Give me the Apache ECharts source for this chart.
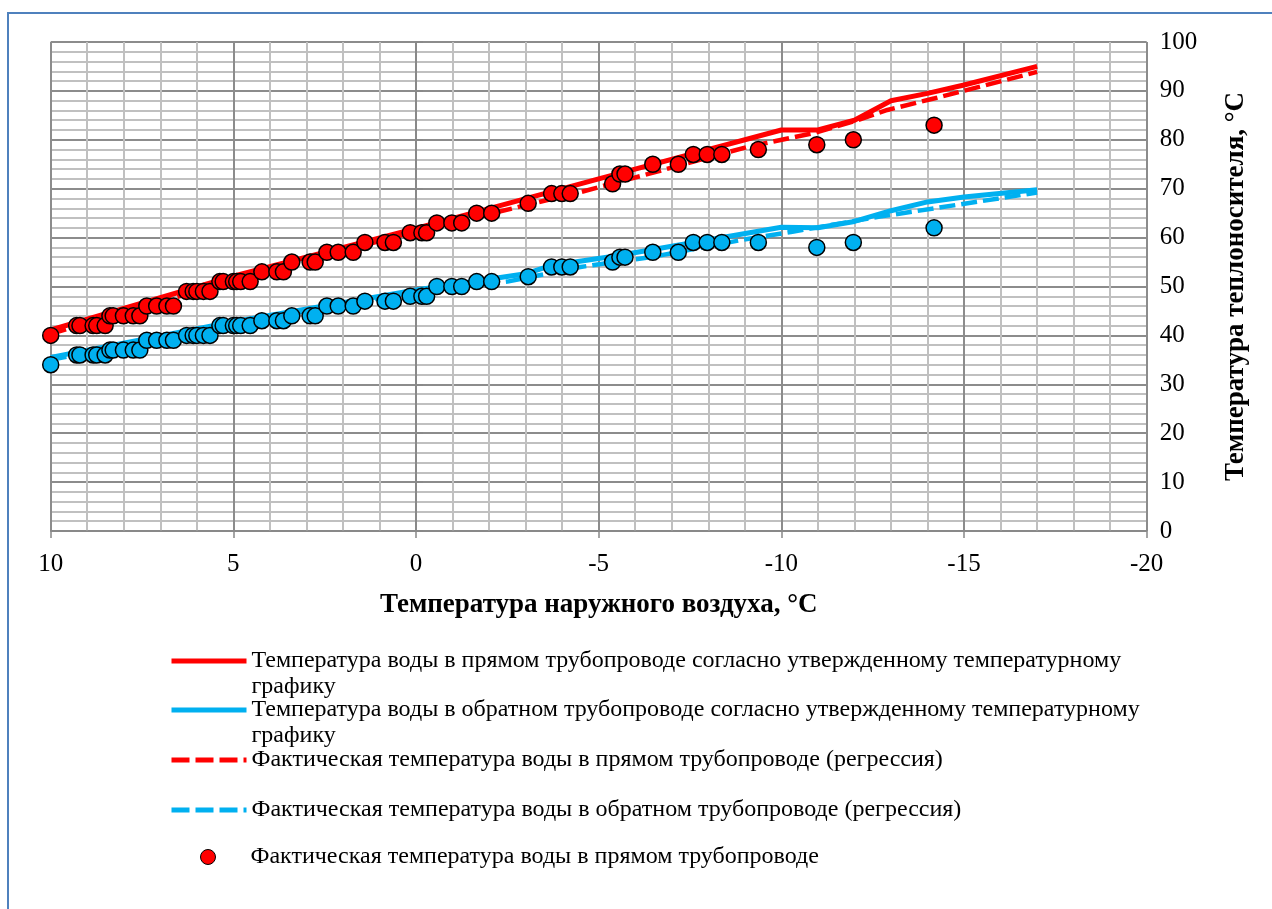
<!DOCTYPE html>
<html><head><meta charset="utf-8">
<script src="https://cdn.jsdelivr.net/npm/echarts@6/dist/echarts.min.js"></script>
<style>html,body{margin:0;padding:0;background:#fff}#c{width:1272px;height:909px}</style>
</head><body><div id="c"></div>
<script>
// ---- data ----
const xTicks = [10, 5, 0, -5, -10, -15, -20];
const supplyScheduleX = [10, 5, 0, -5, -10, -11, -12, -13, -14, -15, -17];
const supplySchedule  = [41.1, 52.1, 61.9, 72, 82, 82, 84, 88, 89.5, 91.2, 95];
const returnScheduleX = [10, 5, 0, -3, -3.7, -5.5, -10, -11, -12, -13, -14, -15, -17];
const returnSchedule  = [35.5, 42.8, 49.3, 52.6, 54.3, 56.3, 62.1, 62, 63.3, 65.5, 67.3, 68.3, 69.8];
const supplyRegX = [10, 5, 0, -2.1, -4.5, -6.6, -9.1, -10.9, -12, -12.9, -14.2, -17];
const supplyReg  = [40.3, 51.2, 61.3, 65, 69.3, 73.5, 78.6, 81.4, 83.8, 86.1, 88.5, 93.9];
const returnRegX = [10, 5, 0, -2.5, -4.5, -6.5, -8.9, -10.3, -12.7, -14.2, -17];
const returnReg  = [35, 42.3, 48.9, 51, 54, 56.1, 59.5, 61.2, 64.3, 66, 69.2];
const obsX = [10, 9.29, 9.2, 8.84, 8.74, 8.51, 8.38, 8.29, 8.01, 7.74, 7.56, 7.37, 7.1, 6.82, 6.64,
  6.28, 6.1, 6.0, 5.82, 5.64, 5.37, 5.28, 5.0, 4.91, 4.8, 4.54, 4.22, 3.81, 3.63, 3.4, 2.9, 2.76,
  2.44, 2.13, 1.72, 1.4, 0.85, 0.62, 0.16, -0.16, -0.29, -0.57, -0.98, -1.25, -1.66, -2.07, -3.07,
  -3.71, -3.99, -4.22, -5.38, -5.58, -5.72, -6.48, -7.18, -7.59, -7.97, -8.37, -9.37, -10.97, -11.97, -14.18];
const obsSupply = [40, 42, 42, 42, 42, 42, 44, 44, 44, 44, 44, 46, 46, 46, 46,
  49, 49, 49, 49, 49, 51, 51, 51, 51, 51, 51, 53, 53, 53, 55, 55, 55,
  57, 57, 57, 59, 59, 59, 61, 61, 61, 63, 63, 63, 65, 65, 67,
  69, 69, 69, 71, 73, 73, 75, 75, 77, 77, 77, 78, 79, 80, 83];
const obsReturn = [34, 36, 36, 36, 36, 36, 37, 37, 37, 37, 37, 39, 39, 39, 39,
  40, 40, 40, 40, 40, 42, 42, 42, 42, 42, 42, 43, 43, 43, 44, 44, 44,
  46, 46, 46, 47, 47, 47, 48, 48, 48, 50, 50, 50, 51, 51, 52,
  54, 54, 54, 55, 56, 56, 57, 57, 59, 59, 59, 59, 58, 59, 62];
const names = [
  'Температура воды в прямом трубопроводе согласно утвержденному температурному графику',
  'Температура воды в обратном трубопроводе согласно утвержденному температурному графику',
  'Фактическая температура воды в прямом трубопроводе (регрессия)',
  'Фактическая температура воды в обратном трубопроводе (регрессия)',
  'Фактическая температура воды в прямом трубопроводе',
  'Фактическая температура воды в обратном трубопроводе'
];
const xTitle = 'Температура наружного воздуха, °С';
const yTitle = 'Температура теплоносителя, °С';

// ---- chart ----
const RED = '#FF0000', BLUE = '#00B0F0';
const zip = (xs, ys) => xs.map((x, i) => [x, ys[i]]);
const FONT = 'Liberation Serif';
const chart = echarts.init(document.getElementById('c'), null, {renderer: 'canvas'});

const legendColors = [RED, BLUE, RED, BLUE, RED];
const legendTops = [617, 666, 742, 792, 839];
const legends = [0, 1, 2, 3, 4].map(i => {
  const isLine = i < 4;
  return {
    left: isLine ? 164 : 195, top: legendTops[i], orient: 'vertical', selectedMode: false,
    padding: 5,
    itemWidth: 75, itemHeight: isLine ? 14 : 15,
    formatter: n => (n.indexOf(' графику') >= 0 ? '\n' + n.replace(' графику', '\nграфику') : n),
    textStyle: {fontFamily: FONT, fontSize: 24, lineHeight: 26, color: '#000'},
    itemStyle: isLine ? {opacity: 0} : {color: RED, borderColor: '#000', borderWidth: 1},
    lineStyle: {color: legendColors[i], width: 5, type: i >= 2 ? [18, 6] : 'solid', cap: 'butt'},
    data: [{name: names[i]}]
  };
});

const lineS = (name, xs, ys, color, dashed) => ({
  name, type: 'line', data: zip(xs, ys), symbol: 'none', smooth: false,
  lineStyle: {color, width: dashed ? 4.5 : 5, type: dashed ? [16, 6] : 'solid'},
  itemStyle: {color}, z: 2, animation: false
});
const scatS = (name, ys, color) => ({
  name, type: 'scatter', data: zip(obsX, ys), symbol: 'circle', symbolSize: 16,
  itemStyle: {color, borderColor: '#000', borderWidth: 1.5, opacity: 1}, z: 3, animation: false
});

const axisCommon = {
  axisLine: {show: true, lineStyle: {color: '#888', width: 1.5}},
  axisTick: {show: true, length: 7, lineStyle: {color: '#888', width: 1.5}},
  splitLine: {show: true, lineStyle: {color: '#8c8c8c', width: 2}},
  minorTick: {show: false, splitNumber: 5},
  minorSplitLine: {show: true, lineStyle: {color: '#c0c0c0', width: 2}}
};

chart.setOption({
  animation: false,
  backgroundColor: '#fff',
  graphic: [{type: 'rect', shape: {x: 8, y: 13, width: 1400, height: 1000},
    style: {fill: 'none', stroke: '#4F81BD', lineWidth: 2}, z: -1, silent: true}],
  grid: {left: 50.7, right: 125.3, top: 42, bottom: 378, containLabel: false},
  xAxis: Object.assign({
    type: 'value', min: -20, max: 10, interval: 5, inverse: true,
    name: xTitle, nameLocation: 'middle', nameGap: 61,
    nameTextStyle: {fontFamily: FONT, fontSize: 27, fontWeight: 'bold', color: '#000'},
    axisLabel: {fontFamily: FONT, fontSize: 25, color: '#000', margin: 21}
  }, axisCommon),
  yAxis: Object.assign({
    type: 'value', position: 'right', min: 0, max: 100, interval: 10,
    name: yTitle, nameLocation: 'middle', nameGap: 76, nameRotate: 90,
    nameTextStyle: {fontFamily: FONT, fontSize: 27, fontWeight: 'bold', color: '#000'},
    axisLabel: {fontFamily: FONT, fontSize: 25, color: '#000', margin: 13}
  }, axisCommon),
  legend: legends,
  series: [
    lineS(names[0], supplyScheduleX, supplySchedule, RED, false),
    lineS(names[1], returnScheduleX, returnSchedule, BLUE, false),
    lineS(names[2], supplyRegX, supplyReg, RED, true),
    lineS(names[3], returnRegX, returnReg, BLUE, true),
    scatS(names[4], obsSupply, RED),
    scatS(names[5], obsReturn, BLUE)
  ]
});
</script></body></html>
